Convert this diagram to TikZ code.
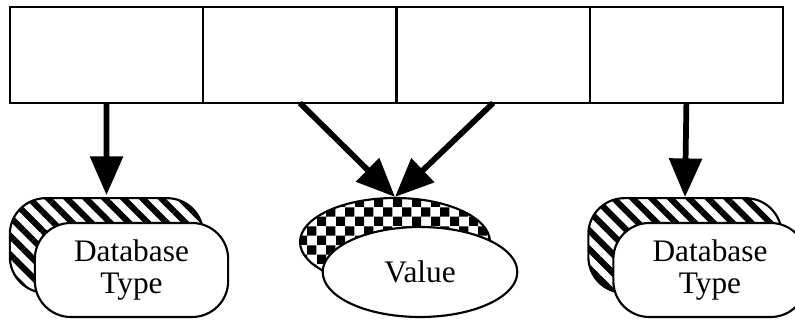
\documentclass[tikz,border=0pt]{standalone}
\usepackage{fontspec}
\setmainfont{Liberation Serif}
\usetikzlibrary{arrows.meta,shapes.geometric,patterns.meta}

% checkerboard fill for the value shadow
\pgfdeclarepattern{
  name=checker,
  type=uncolored,
  bottom left={\pgfpointorigin},
  top right={\pgfpoint{14pt}{14pt}},
  tile size={\pgfpoint{14pt}{14pt}},
  code={
    \pgfpathrectangle{\pgfpointorigin}{\pgfpoint{7pt}{7pt}}
    \pgfpathrectangle{\pgfpoint{7pt}{7pt}}{\pgfpoint{7pt}{7pt}}
    \pgfusepath{fill}
  }
}

\tikzset{
  cell/.style={draw, line width=1.5pt, minimum width=145pt, minimum height=72pt, inner sep=0pt, outer sep=0pt},
  dbback/.style={draw, line width=1.6pt, rounded corners=27pt, minimum width=145pt, minimum height=71pt,
    pattern={Lines[angle=-45,distance=10pt,line width=4.6pt]}},
  dbfront/.style={draw, fill=white, line width=1.6pt, rounded corners=27pt, minimum width=145pt, minimum height=70.5pt,
    align=center, font=\fontsize{23.5}{23.5}\selectfont},
  valback/.style={ellipse, draw, line width=1.6pt, minimum width=142.5pt, minimum height=66pt, pattern=checker},
  valfront/.style={ellipse, draw, fill=white, line width=1.6pt, minimum width=146pt, minimum height=67.5pt,
    font=\fontsize{23.5}{23.5}\selectfont},
  link/.style={line width=4.3pt, -{Triangle[length=29pt,width=24pt]}},
}

\begin{document}
\begin{tikzpicture}[x=0.75pt, y=-0.75pt]
  \useasboundingbox (0,0) rectangle (795,320);
  % record of four fields
  \node[cell] (cellA) at (106.6,55) {};
  \node[cell] (cellB) at (299.9,55) {};
  \node[cell] (cellC) at (493.1,55) {};
  \node[cell] (cellD) at (686.4,55) {};
  % target shapes
  \node[dbback] (typeL) at (106.5,245.5) {};
  \node[dbfront] (typeLf) at (131.5,270) {Database\\Type};
  \node[valback] (valB) at (395,242) {};
  \node[valfront] (valF) at (420,272) {Value};
  \node[dbback] (typeR) at (685,245.5) {};
  \node[dbfront] (typeRf) at (710,270) {Database\\Type};
  % pointers
  \draw[link] (cellA.south) -- (typeL.north);
  \draw[link] (cellB.south) -- (valB.north);
  \draw[link] (cellC.south) -- (valB.north);
  \draw[link] (cellD.south) -- (typeR.north);
\end{tikzpicture}
\end{document}
